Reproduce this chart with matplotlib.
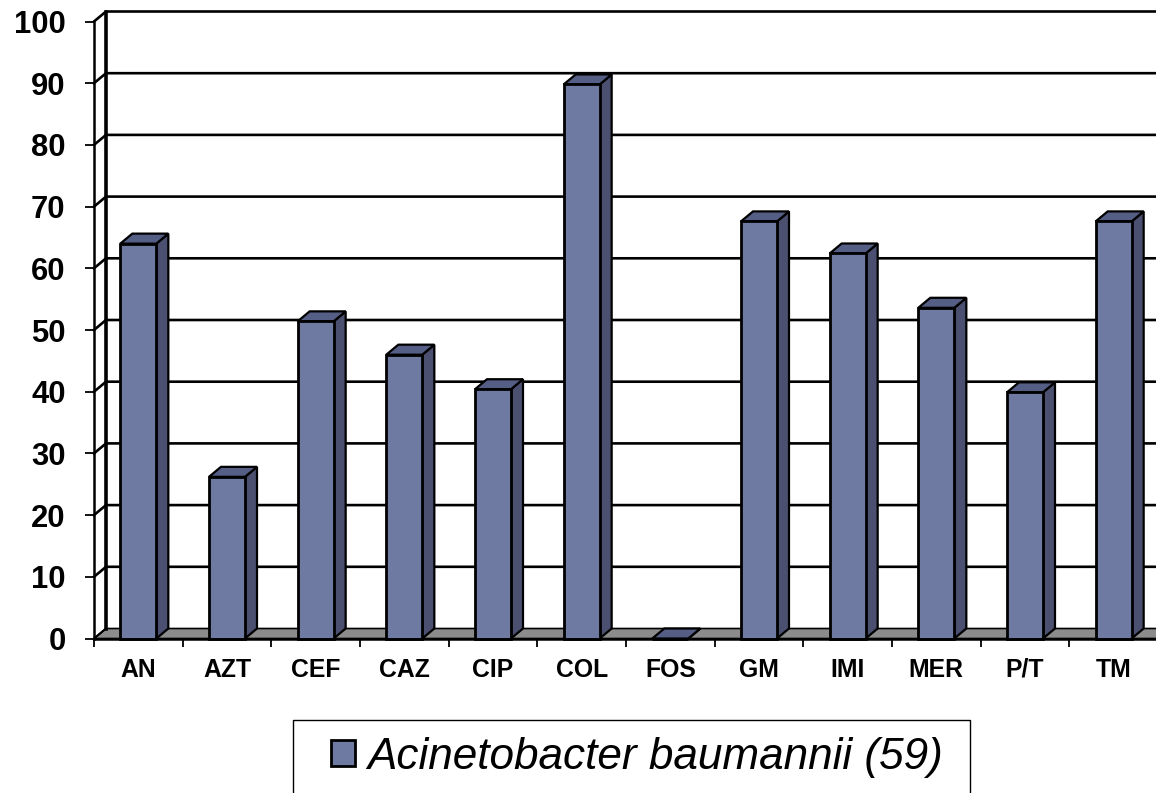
import matplotlib
matplotlib.use('Agg')
import matplotlib.pyplot as plt
from matplotlib.patches import Polygon, Rectangle

categories = ['AN', 'AZT', 'CEF', 'CAZ', 'CIP', 'COL', 'FOS', 'GM', 'IMI', 'MER', 'P/T', 'TM']
values = [64.0, 26.2, 51.4, 46.0, 40.4, 89.8, 0, 67.6, 62.4, 53.6, 39.9, 67.6]
yticks = [0, 10, 20, 30, 40, 50, 60, 70, 80, 90, 100]
series_name = 'Acinetobacter baumannii (59)'

plt.rcParams['font.family'] = ['Liberation Sans', 'DejaVu Sans']

W, H = 1156, 793
fig = plt.figure(figsize=(W / 100, H / 100), dpi=100)
ax = fig.add_axes([94 / W, (H - 638.5) / H, 1064 / W, 617 / H])
ax.set_xlim(0, len(categories))
ax.set_ylim(0, 100)
ax.patch.set_visible(False)

# 3d look, depth of the plot in data units
dx = 12 / (1064 / len(categories))
dy = 10 / 6.17
n = len(categories)

# floor
ax.add_patch(Polygon([(0, 0), (dx, dy), (n + dx, dy), (n, 0)], closed=True, fc='#8c8c8c',
                     ec='black', lw=1.2, zorder=1, clip_on=False))
# walls and grid
ax.plot([dx, dx], [dy, 100 + dy], color='black', lw=2.6, zorder=2, clip_on=False)
for v in yticks[1:]:
    ax.plot([0, dx, n + dx], [v, v + dy, v + dy], color='black', lw=1.9, zorder=2, clip_on=False,
            solid_joinstyle='miter')
ax.plot([0, dx], [0, dy], color='black', lw=1.5, zorder=2, clip_on=False)

x = [i + 0.5 for i in range(n)]
width = 36 / (1064 / n)
bars = ax.bar(x, values, width=width, color='#6f7aa3', edgecolor='black', linewidth=2.0,
              zorder=4, clip_on=False, label=series_name)
for xi, v in zip(x, values):
    l = xi - width / 2
    r = xi + width / 2
    ax.add_patch(Polygon([(r, 0), (r + dx, dy), (r + dx, v + dy), (r, v)], closed=True,
                         fc='#4b5070', ec='black', lw=1.6, zorder=3, clip_on=False))
    ax.add_patch(Polygon([(l, v), (l + dx, v + dy), (r + dx, v + dy), (r, v)], closed=True,
                         fc='#555e85', ec='black', lw=1.6, zorder=3, clip_on=False))

for s in ['top', 'right']:
    ax.spines[s].set_visible(False)
ax.spines['left'].set_linewidth(1.8)
ax.spines['bottom'].set_linewidth(1.8)
ax.spines['left'].set_zorder(5)
ax.spines['bottom'].set_zorder(5)

ax.set_yticks(yticks)
ax.set_yticklabels([str(v) for v in yticks], fontsize=22.3, fontweight='bold')
ax.tick_params(axis='y', length=6.5, width=1.3, pad=14)
ax.set_xticks(range(n + 1))
ax.set_xticklabels([])
ax.set_xticks(x, minor=True)
ax.set_xticklabels(categories, minor=True, fontsize=17.8, fontweight='bold')
ax.tick_params(axis='x', which='major', length=5.5, width=1.3)
ax.tick_params(axis='x', which='minor', length=0, pad=14)

# legend box runs off the bottom of the picture, so frame is separate
ax.add_patch(Rectangle((293 / W, -0.02), 677 / W, 1 - 720 / H + 0.02, transform=fig.transFigure,
                       fc='white', ec='black', lw=1.0, zorder=9, clip_on=False))
leg = ax.legend(handles=[bars], loc='center left', bbox_to_anchor=(331 / W, 1 - 757 / H),
                bbox_transform=fig.transFigure, borderaxespad=0, borderpad=0, frameon=False,
                handlelength=0.55, handleheight=0.55, handletextpad=0.27,
                prop={'size': 31.8, 'style': 'italic'})
leg.set_zorder(10)

fig.savefig('out.png', dpi=100)
